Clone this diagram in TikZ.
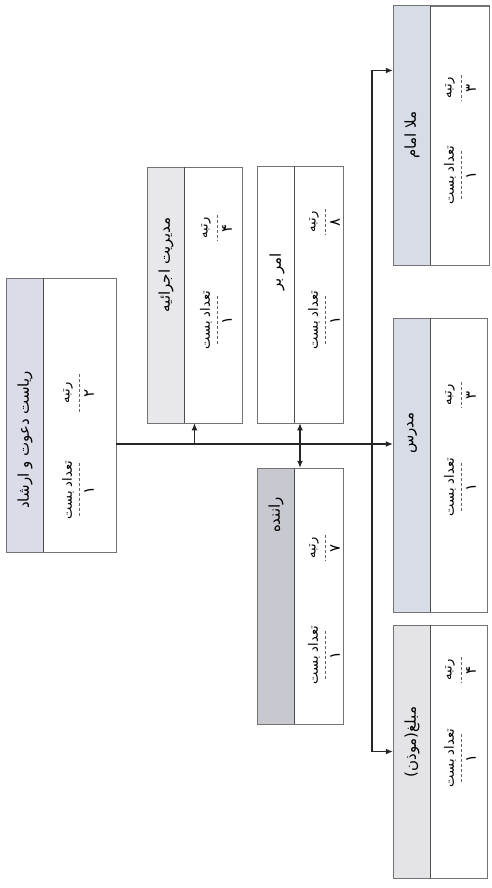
\documentclass[tikz,border=0pt]{standalone}
\usepackage{fontspec}
\usepackage[rgb]{xcolor}
\usepackage{tikz}
\usetikzlibrary{arrows.meta}
\TeXXeTstate=1
\newfontfamily\fa[Script=Arabic]{DejaVu Sans}
\definecolor{dm_lav}{HTML}{DCDCE8}
\definecolor{dm_light}{HTML}{E8E8EA}
\definecolor{dm_dark}{HTML}{C8C8D0}
\definecolor{dm_blue}{HTML}{D8DCE6}
\definecolor{dm_grey}{HTML}{E4E4E6}

\tikzset{
    boxline/.style={draw=black!55, line width=0.5pt},
    divline/.style={draw=black!70, line width=0.6pt},
    headtxt/.style={rotate=90, inner sep=0pt, font=\fa\fontsize{15}{17}\selectfont},
    itemtxt/.style={rotate=90, inner sep=0pt, font=\fa\fontsize{13}{15}\selectfont},
    numtxt/.style={rotate=90, inner sep=0pt, font=\fa\fontsize{15}{17}\selectfont},
    dashline/.style={draw=black!60, densely dashed, line width=0.5pt},
    conn/.style={draw=black!85, line width=1.1pt},
    >={Latex[length=7pt,width=6pt]}
}

% frame of one post: name, left, top, right, bottom, header colour
\newcommand{\postbox}[6]{%
    \node[boxline, fill=white, inner sep=0pt, minimum width={(#4-#2)*1pt},
        minimum height={(#5-#3)*1pt}] (#1) at ({(#2+#4)/2},{(#3+#5)/2}) {};
    \fill[#6] (#1.north west) rectangle ([xshift=38pt]#1.south west);
    \draw[boxline] (#1.north west) rectangle (#1.south east);
    \draw[divline] ([xshift=38pt]#1.north west) -- ([xshift=38pt]#1.south west);
}
% one entry of a post: name, x, y, half dash, text, figure
\newcommand{\postitem}[6]{%
    \node[itemtxt] (#1-lbl) at (#2,#3) {#5};
    \draw[dashline] (#2+11,#3-#4) -- (#2+11,#3+#4);
    \node[numtxt] (#1-num) at (#2+21,#3) {#6};
}

\begin{document}
\begin{tikzpicture}[x=1pt, y=-1pt]
    \fill[white] (0,0) rectangle (492,888);
    \useasboundingbox (0,0) rectangle (492,888);

    \postbox{root}{6}{278}{116}{552}{dm_lav}
    \node[headtxt] (root-title) at (25,440) {\beginR ریاست دعوت و ارشاد\endR};
    \postitem{root-rank}{68}{393}{19}{\beginR رتبه\endR}{۲}
    \postitem{root-count}{68}{490}{27}{\beginR تعداد بست\endR}{۱}

    \postbox{modir}{147}{167}{242}{423}{dm_light}
    \node[headtxt] (modir-title) at (166,265) {\beginR مدیریت اجرائیه\endR};
    \postitem{modir-rank}{206}{228}{13}{\beginR رتبه\endR}{۴}
    \postitem{modir-count}{206}{320}{24}{\beginR تعداد بست\endR}{۱}

    \postbox{amrbar}{257}{166}{343}{423}{white}
    \node[headtxt] (amrbar-title) at (277,272) {\beginR امر بر\endR};
    \postitem{amrbar-rank}{314}{222}{13}{\beginR رتبه\endR}{۸}
    \postitem{amrbar-count}{314}{320}{24}{\beginR تعداد بست\endR}{۱}

    \postbox{ranande}{257}{468}{343}{724}{dm_dark}
    \node[headtxt] (ranande-title) at (276,515) {\beginR راننده\endR};
    \postitem{ranande-rank}{314}{548}{13}{\beginR رتبه\endR}{۷}
    \postitem{ranande-count}{314}{655}{24}{\beginR تعداد بست\endR}{۱}

    \postbox{mulla}{393}{6}{489}{265}{dm_blue}
    \node[headtxt] (mulla-title) at (412,135) {\beginR ملا امام\endR};
    \postitem{mulla-rank}{450}{88}{13}{\beginR رتبه\endR}{۳}
    \postitem{mulla-count}{450}{175}{24}{\beginR تعداد بست\endR}{۱}

    \postbox{modares}{393}{318}{487}{612}{dm_blue}
    \node[headtxt] (modares-title) at (412,433) {\beginR مدرس\endR};
    \postitem{modares-rank}{450}{395}{13}{\beginR رتبه\endR}{۳}
    \postitem{modares-count}{450}{487}{24}{\beginR تعداد بست\endR}{۱}

    \postbox{mobaleq}{393}{625}{487}{878}{dm_grey}
    \node[headtxt] (mobaleq-title) at (412,742) {\beginR مبلغ(موذن)\endR};
    \postitem{mobaleq-rank}{450}{670}{13}{\beginR رتبه\endR}{۴}
    \postitem{mobaleq-count}{450}{758}{24}{\beginR تعداد بست\endR}{۱}

    \coordinate (bus) at (0,444);
    \coordinate (trunk) at (372,0);
    \coordinate (mulla-in) at ([yshift=65pt]mulla.west);

    \draw[conn, ->] (root.east |- bus) -- (modares.west |- bus);
    \draw[conn, ->] (modir.south |- bus) -- (modir.south);
    \draw[conn, <->] (amrbar.south) -- (ranande.north);
    \draw[conn, <->] (mobaleq.west) -- (trunk |- mobaleq.west)
        -- (trunk |- mulla-in) -- (mulla-in);
\end{tikzpicture}
\end{document}
